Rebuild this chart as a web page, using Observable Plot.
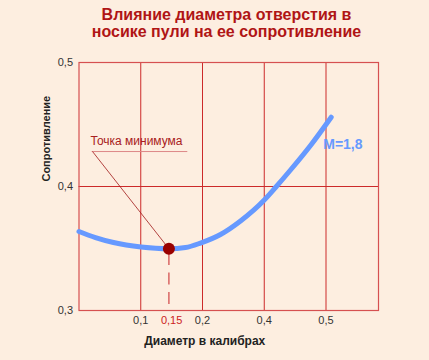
<!DOCTYPE html>
<html><head><meta charset="utf-8">
<script src="https://cdn.jsdelivr.net/npm/d3@7"></script>
<script src="https://cdn.jsdelivr.net/npm/@observablehq/plot@0.6"></script>
<style>
html,body{margin:0;padding:0;background:#fdeee0;}
body{width:429px;height:360px;overflow:hidden;font-family:"Liberation Sans",Arial,sans-serif;}
#title{height:41px;padding:6px 0 0 24px;text-align:center;font-weight:bold;font-size:16px;line-height:17px;color:#b01515;}
#chart svg{display:block;}
</style></head><body>
<div id="title">Влияние диаметра отверстия в<br>носике пули на ее сопротивление</div>
<div id="chart"></div>
<script>
// Curve: diameter (calibers) vs resistance, M = 1.8
const diameter   = [0, 0.0267, 0.0559, 0.1004, 0.1456, 0.1725, 0.1968, 0.2583, 0.3231, 0.3985, 0.4182, 0.4425, 0.4749, 0.5084];
const resistance = [0.3637, 0.3588, 0.3548, 0.3512, 0.3498, 0.3508, 0.3544, 0.3613, 0.3722, 0.3887, 0.3992, 0.4133, 0.4331, 0.4559];
const minimum = {d: 0.1456, r: 0.3498};
const seriesLabel = "M=1,8";
const annotationLabel = "Точка минимума";

const xTickValues = [0.1, 0.15, 0.2, 0.4, 0.5];
const xTickLabels = ["0,1", "0,15", "0,2", "0,4", "0,5"];
const xGridValues = [0.1, 0.2, 0.4, 0.5];
const yTickValues = [0.3, 0.4, 0.5];
const yTickLabels = ["0,3", "0,4", "0,5"];
const yGridValues = [0.4];

const titleText = "Влияние диаметра отверстия в носике пули на ее сопротивление";
const xLabel = "Диаметр в калибрах";
const yLabel = "Сопротивление";

// the original axis spaces its ticks evenly (0.1, 0.2, 0.4, 0.5)
const slot = d3.scaleLinear([0, 0.1, 0.2, 0.4, 0.5], [0, 1, 2, 3, 4]);
const curve = diameter.map((d, i) => ({d, r: resistance[i]}));

const red = "#cc2a2a";
const chart = Plot.plot({
  width: 429, height: 313,
  marginTop: 15, marginLeft: 78.5, marginRight: 51, marginBottom: 50,
  x: {domain: [0, 4.85], axis: null},
  y: {domain: [0.3, 0.5], axis: null},
  style: {background: "transparent", fontFamily: "'Liberation Sans', Arial, sans-serif", fontSize: "11px"},
  marks: [
    Plot.ruleX(xGridValues, {x: d => slot(d), stroke: red, strokeWidth: 1}),
    Plot.ruleY(yGridValues, {y: d => d, stroke: red, strokeWidth: 1}),
    Plot.frame({stroke: "#d65050", strokeWidth: 1.2}),
    Plot.ruleX([minimum], {x: d => slot(d.d), y1: d => d.r, y2: 0.3, stroke: "#d04545", strokeWidth: 1.2, strokeDasharray: "12,7.5", strokeDashoffset: 14.8}),
    Plot.line(curve, {x: d => slot(d.d), y: "r", stroke: "#6699ff", strokeWidth: 5, curve: "monotone-x"}),
    Plot.ruleY([0.4282], {y: d => d, x1: () => slot(0.0214), x2: () => slot(0.1762), stroke: "#dd8888", strokeWidth: 1}),
    Plot.link([minimum], {x1: () => slot(0.0219), y1: () => 0.4282, x2: d => slot(d.d), y2: d => d.r, stroke: "#a01818", strokeWidth: 0.8}),
    Plot.text([annotationLabel], {x: () => slot(0.0186), y: () => 0.4367, text: d => d, textAnchor: "start", fill: "#a82020", fontSize: 12}),
    Plot.dot([minimum], {x: d => slot(d.d), y: "r", r: 6, fill: "#990000"}),
    Plot.text([seriesLabel], {x: () => slot(0.4955), y: () => 0.4336, text: d => d, textAnchor: "start", fill: "#6699ff", fontSize: 14, fontWeight: "bold"}),
    Plot.text(xTickValues, {x: d => slot(d), text: (d, i) => xTickLabels[i], frameAnchor: "bottom", dy: 13, fill: d => d === 0.15 ? "#cc2222" : "#333333", fontSize: 11}),
    Plot.text(yTickValues, {y: d => d, text: (d, i) => yTickLabels[i], frameAnchor: "left", textAnchor: "end", dx: -6, fill: "#333333", fontSize: 11}),
    Plot.text([xLabel], {text: d => d, frameAnchor: "bottom", dx: -24, dy: 34, fill: "#222222", fontSize: 12, fontWeight: "bold"}),
    Plot.text([yLabel], {y: () => 0.404, text: d => d, frameAnchor: "left", dx: -32.5, rotate: -90, fill: "#222222", fontSize: 11, fontWeight: "bold"})
  ]
});
chart.setAttribute("aria-label", titleText);
document.getElementById("chart").appendChild(chart);
</script></body></html>
